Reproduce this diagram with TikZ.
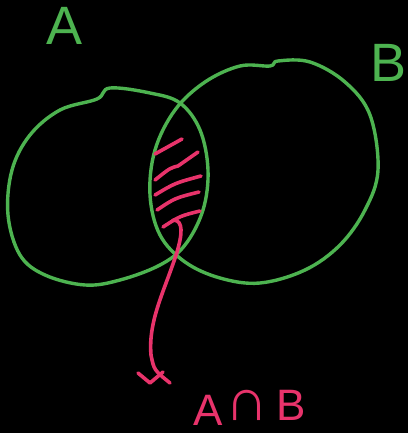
\documentclass[tikz,border=0pt]{standalone}
\usepackage{fontspec}
\setmainfont{Liberation Sans}
\usetikzlibrary{arrows.meta}
\definecolor{vgreen}{HTML}{4DB350}
\definecolor{vpink}{HTML}{E8336B}

\begin{document}
\begin{tikzpicture}[x=1pt, y=-1pt,
  setline/.style={draw=vgreen, line width=3.4pt, line cap=round, line join=round},
  hatch/.style={draw=vpink, line width=3.6pt, line cap=round, line join=round},
  setname/.style={text=vgreen, font=\fontsize{54}{54}\selectfont, inner sep=0pt},
  result/.style={text=vpink, font=\fontsize{44}{44}\selectfont, inner sep=0pt},
]
  \fill[black] (0,0) rectangle (408,433);
  \useasboundingbox (0,0) rectangle (408,433);
  % the two sets
  \draw[setline] plot[smooth cycle, tension=0.6] coordinates {(110,88) (150,93) (180,103)
    (200,130) (208,170) (203,210) (185,245) (160,265) (120,280) (85,285) (45,275)
    (20,255) (8,215) (12,170) (30,135) (60,110) (97,99)};
  \draw[setline] plot[smooth cycle, tension=0.6] coordinates {(278,61) (310,62) (345,82)
    (370,115) (378,170) (365,210) (340,245) (305,270) (260,283) (220,278) (185,262)
    (160,235) (150,195) (155,150) (175,110) (205,82) (240,66) (270,66)};
  \node[setname] (A) at (65,26) {A};
  \node[setname] (B) at (389,63) {B};
  % shaded intersection
  \draw[hatch] (155,154) -- (182,139);
  \draw[hatch] (155,180) .. controls (170,168) .. (178,166) -- (198,152);
  \draw[hatch] (155,195) .. controls (175,183) .. (201,176);
  \draw[hatch] (157,210) .. controls (175,198) .. (199,192);
  \draw[hatch] (163,227) .. controls (180,216) .. (200,211);
  % result label
  \node[result] (rA) at (208,410) {A};
  \node[result, font=\fontsize{60}{60}\selectfont] (rcap) at (247,405) {∩};
  \node[result] (rB) at (291,405) {B};
  \coordinate (hatch) at (173,220);
  \coordinate (tip) at (150,383);
  \draw[hatch] (hatch) .. controls (184,220) and (182,235) .. (177,252)
    .. controls (165,290) and (148,320) .. (151,355) .. controls (154,370) .. (170,383);
  \draw[hatch] (138,373) -- (tip) -- (163,372);
\end{tikzpicture}
\end{document}
